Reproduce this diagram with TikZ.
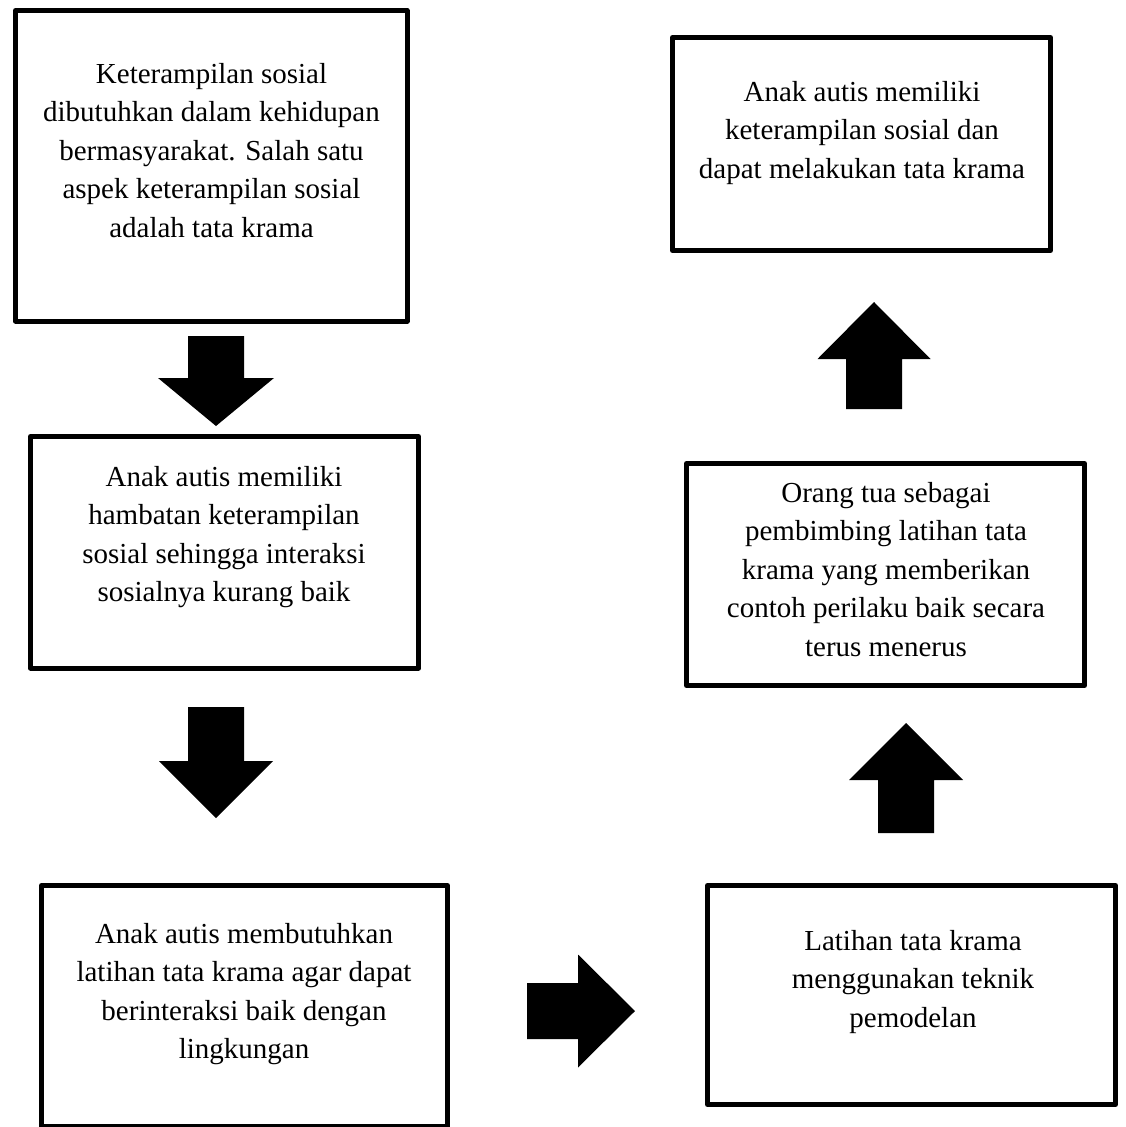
\documentclass[tikz,border=0pt]{standalone}
\usepackage{fontspec}
\setmainfont{Liberation Serif}
\usetikzlibrary{calc}
\tikzset{
  box/.style={draw=black, line width=5pt, line join=round, fill=white, rectangle, inner sep=0pt},
  txt/.style={inner sep=0pt, anchor=base, font=\fontsize{29}{38.5}\selectfont},
  blockfill/.style={fill=black}
}
% #1 tail, #2 tip, #3 shaft half width, #4 head half width, #5 head length
\newcommand\blockarrow[5]{%
  \coordinate (bahead) at ($(#2)!#5!(#1)$);
  \fill[blockfill] ($(#1)!#3!90:(#2)$) -- ($(bahead)!#3!90:(#2)$) -- ($(bahead)!#4!90:(#2)$)
    -- (#2) -- ($(bahead)!#4!-90:(#2)$) -- ($(bahead)!#3!-90:(#2)$) -- ($(#1)!#3!-90:(#2)$) -- cycle;
}
\begin{document}
\begin{tikzpicture}[x=1pt,y=-1pt]
\useasboundingbox (0,0) rectangle (1125,1127);
\fill[white] (0,0) rectangle (1125,1127);

% boxes
\node[box, minimum width=391.5pt, minimum height=310.5pt] (b1) at (211.25,165.75) {};
\node[box, minimum width=388pt, minimum height=231.5pt] (b2) at (224.5,552.25) {};
\node[box, minimum width=406pt, minimum height=240.5pt] (b3) at (244.5,1005.75) {};
\node[box, minimum width=378pt, minimum height=213pt] (b4) at (861.5,144) {};
\node[box, minimum width=398pt, minimum height=222pt] (b5) at (885.5,574.5) {};
\node[box, minimum width=408pt, minimum height=219pt] (b6) at (911.5,995) {};

% texts
\node[txt] (t1) at (211.5,83.3) {\begin{tabular}[t]{@{}c@{}}Keterampilan sosial\\dibutuhkan dalam kehidupan\\bermasyarakat. Salah satu\\aspek keterampilan sosial\\adalah tata krama\end{tabular}};
\node[txt] (t2) at (224,486) {\begin{tabular}[t]{@{}c@{}}Anak autis memiliki\\hambatan keterampilan\\sosial sehingga interaksi\\sosialnya kurang baik\end{tabular}};
\node[txt] (t3) at (244,943) {\begin{tabular}[t]{@{}c@{}}Anak autis membutuhkan\\latihan tata krama agar dapat\\berinteraksi baik dengan\\lingkungan\end{tabular}};
\node[txt] (t4) at (862,101) {\begin{tabular}[t]{@{}c@{}}Anak autis memiliki\\keterampilan sosial dan\\dapat melakukan tata krama\end{tabular}};
\node[txt] (t5) at (886,502) {\begin{tabular}[t]{@{}c@{}}Orang tua sebagai\\pembimbing latihan tata\\krama yang memberikan\\contoh perilaku baik secara\\terus menerus\end{tabular}};
\node[txt] (t6) at (913,950) {\begin{tabular}[t]{@{}c@{}}Latihan tata krama\\menggunakan teknik\\pemodelan\end{tabular}};

% arrow end points
\coordinate (a1s) at (216,336);  \coordinate (a1e) at (216,426);
\coordinate (a2s) at (216,707);  \coordinate (a2e) at (216,818);
\coordinate (a3s) at (527,1011); \coordinate (a3e) at (635,1011);
\coordinate (a4s) at (906,833);  \coordinate (a4e) at (906,723);
\coordinate (a5s) at (874,409);  \coordinate (a5e) at (874,302);

\blockarrow{a1s}{a1e}{28pt}{58pt}{48pt}
\blockarrow{a2s}{a2e}{28pt}{57pt}{57pt}
\blockarrow{a3s}{a3e}{28pt}{56.5pt}{57pt}
\blockarrow{a4s}{a4e}{28pt}{57pt}{57pt}
\blockarrow{a5s}{a5e}{28pt}{56.5pt}{57pt}
\end{tikzpicture}
\end{document}
